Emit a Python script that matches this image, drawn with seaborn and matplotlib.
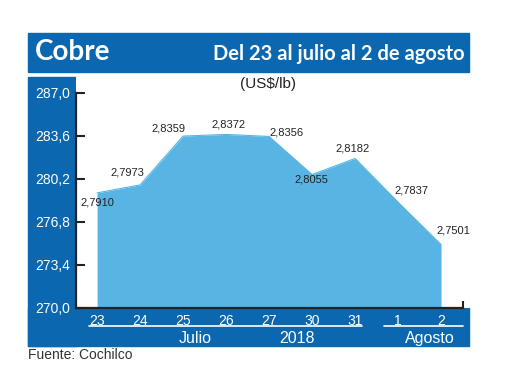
import matplotlib
matplotlib.use("Agg")
from matplotlib import pyplot as plt
from matplotlib.patches import Rectangle
import seaborn as sns
import pandas as pd

# data (US$ cents per lb)
dias = ["23", "24", "25", "26", "27", "30", "31", "1", "2"]
precios = [279.10, 279.73, 283.59, 283.72, 283.56, 280.55, 281.82, 278.37, 275.01]
yticks = [270.0, 273.4, 276.8, 280.2, 283.6, 287.0]
# label offsets in pixels (dx, dy)
offsets = [(0, -10), (-13, 12), (-15, 8), (2, 10), (17, 4), (-1, -5), (-2, 10), (13, 12), (12, 14)]

AZUL = "#0a67b0"
CELESTE = "#58b5e3"

sns.set_theme(style="white")
plt.rcParams['font.family'] = ['Liberation Sans', 'DejaVu Sans']

df = pd.DataFrame({"x": range(len(dias)), "precio": precios})

fig = plt.figure(figsize=(5.2, 3.9), dpi=100)
fig.patch.set_facecolor("white")

# blue frame pieces
fig.patches.append(Rectangle((28/520, 1-72/390), 441/520, 39/390, transform=fig.transFigure,
                             color=AZUL, zorder=0))
fig.patches.append(Rectangle((28/520, 1-346/390), 49/520, 269/390, transform=fig.transFigure,
                             color=AZUL, zorder=0))
fig.patches.append(Rectangle((28/520, 1-346/390), 441/520, 38/390, transform=fig.transFigure,
                             color=AZUL, zorder=0))

ax = fig.add_axes([76/520, 1-308/390, 393/520, 231/390])
ax.set_zorder(2)
ax.set_facecolor("white")

sns.lineplot(data=df, x="x", y="precio", color=CELESTE, lw=0.8, ax=ax)
ax.fill_between(df["x"], df["precio"], 270, color=CELESTE, lw=0)

for i, v in enumerate(precios):
    txt = f"{v/100:.4f}".replace(".", ",")
    dx, dy = offsets[i]
    ax.annotate(txt, (i, v), xytext=(dx*0.72, dy*0.72), textcoords="offset points",
                ha="center", va="center", fontsize=8, color="#222222")

ax.set_xlim(-0.49, 8.65)
ax.set_ylim(270, 288.26)
ax.set_xticks(range(len(dias)))
ax.set_xticklabels(dias)
ax.set_xticks([8.5], minor=True)
ax.set_yticks(yticks)
ax.set_yticklabels([f"{t:.1f}".replace(".", ",") for t in yticks])
ax.set_xlabel("")
ax.set_ylabel("")

for s in ["top", "right"]:
    ax.spines[s].set_visible(False)
ax.spines["left"].set_bounds(270, 287)
ax.spines["bottom"].set_bounds(-0.49, 8.5)
for s in ["left", "bottom"]:
    ax.spines[s].set_color("#222222")
    ax.spines[s].set_linewidth(1.6)

ax.tick_params(axis="y", direction="in", length=6.5, width=1.5, color="#222222",
               labelcolor="white", labelsize=10, pad=4.5, left=True)
ax.tick_params(axis="x", which="major", length=0, labelcolor="white", labelsize=10, pad=4)
ax.tick_params(axis="x", which="minor", direction="in", length=5, width=1.5,
               color="#222222", bottom=True)

# group lines and labels under the x axis
tr = ax.get_xaxis_transform()
ax.plot([-0.19, 6.16], [-0.078, -0.078], transform=tr, color="white", lw=1.2, clip_on=False)
ax.plot([6.67, 8.51], [-0.078, -0.078], transform=tr, color="white", lw=1.2, clip_on=False)
for xx, lab in [(2.28, "Julio"), (4.65, "2018"), (7.74, "Agosto")]:
    ax.text(xx, -0.132, lab, transform=tr, ha="center", va="center", color="white", fontsize=11.5)

fig.text(35/520, 1-52/390, "Cobre", color="white", fontsize=20, fontweight="bold",
         family=['Lato', 'DejaVu Sans'], va="center", ha="left")
fig.text(465/520, 1-54/390, "Del 23 al julio al 2 de agosto", color="white", fontsize=14.5,
         fontweight="bold", family=['Lato', 'DejaVu Sans'], va="center", ha="right")
fig.text(268/520, 1-84/390, "(US$/lb)", color="#222222", fontsize=11, ha="center", va="center")
fig.text(28/520, 1-355/390, "Fuente: Cochilco", color="#333333", fontsize=10, ha="left", va="center")

fig.savefig("out.png", dpi=100)
